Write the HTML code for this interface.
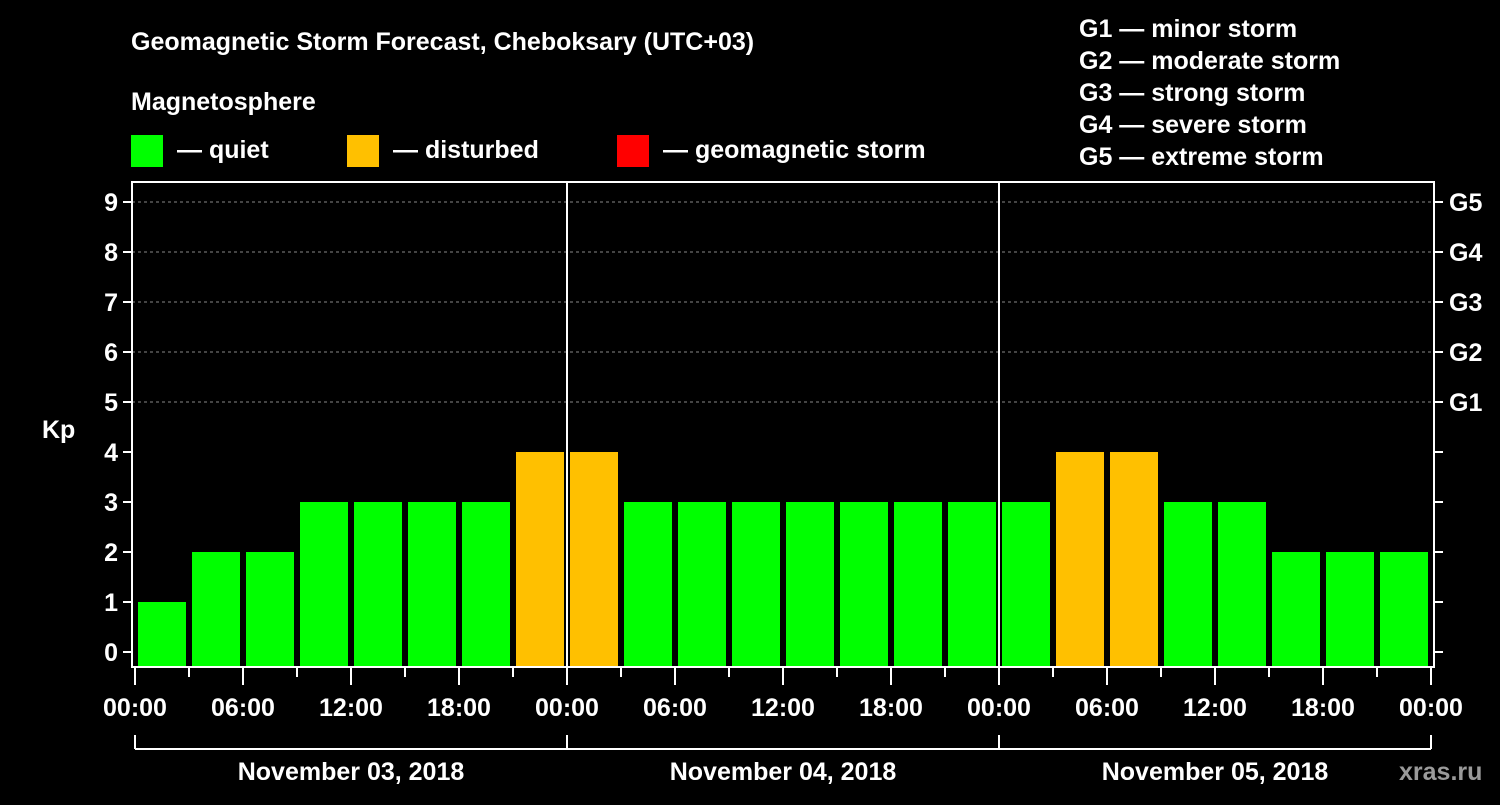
<!DOCTYPE html>
<html><head><meta charset="utf-8"><style>
body{margin:0;background:#000;width:1500px;height:800px;overflow:hidden}
svg text{font-family:"Liberation Sans",Arial,sans-serif;font-weight:bold;fill:#fff}
</style></head><body>
<svg id="c" width="1500" height="800" xmlns="http://www.w3.org/2000/svg">
<text x="131" y="50" font-size="25">Geomagnetic Storm Forecast, Cheboksary (UTC+03)</text>
<text x="131" y="110" font-size="25">Magnetosphere</text>
<g><rect x="131" y="135" width="32" height="32" fill="#00ff00"/><text x="177" y="158" font-size="25">— quiet</text></g>
<g><rect x="347" y="135" width="32" height="32" fill="#ffc000"/><text x="393" y="158" font-size="25">— disturbed</text></g>
<g><rect x="617" y="135" width="32" height="32" fill="#ff0000"/><text x="663" y="158" font-size="25">— geomagnetic storm</text></g>
<g font-size="25">
<text x="1079" y="37">G1 — minor storm</text><text x="1079" y="69">G2 — moderate storm</text><text x="1079" y="101">G3 — strong storm</text><text x="1079" y="133">G4 — severe storm</text><text x="1079" y="165">G5 — extreme storm</text></g>
<text x="42" y="438" font-size="25">Kp</text>
<text x="1399" y="780" font-size="25" fill="#999" style="fill:#9a9a9a">xras.ru</text>
<g id="plot"></g>
</svg>
<script>
const kpValues=[1,2,2,3,3,3,3,4,4,3,3,3,3,3,3,3,3,4,4,3,3,2,2,2];
const dayLabels=["November 03, 2018","November 04, 2018","November 05, 2018"];
const hourLabels=["00:00","06:00","12:00","18:00"];
const yTicks=[0,1,2,3,4,5,6,7,8,9];
const gLabels=["G1","G2","G3","G4","G5"];
const NS="http://www.w3.org/2000/svg";
const g=document.getElementById('plot');
const X0=135,SLOT=54,Y0=652,UNIT=50,L=132,R=1434,T=182,B=667;
const xs=i=>X0+i*SLOT; const ys=v=>Y0-v*UNIT;
function mk(t,a,p){const e=document.createElementNS(NS,t);for(const k in a)e.setAttribute(k,a[k]);(p||g).appendChild(e);return e;}
// grid
for(let v=5;v<=9;v++){const l=mk('line',{x1:L,x2:R,y1:ys(v),y2:ys(v),stroke:'#888','stroke-dasharray':'3,3','stroke-width':1});

}
// bars
kpValues.forEach((v,i)=>{const col=v>=5?'#ff0000':v>=4?'#ffc000':'#00ff00';
const r=mk('rect',{x:xs(i)+3,y:ys(v),width:SLOT-6,height:B-ys(v),fill:col});

});
// day separators
for(let d=1;d<dayLabels.length;d++){const l=mk('line',{x1:xs(d*8),x2:xs(d*8),y1:T,y2:B,stroke:'#fff','stroke-width':2});

}
// frame
const f=mk('rect',{x:L,y:T,width:R-L,height:B-T,fill:'none',stroke:'#fff','stroke-width':2});


// y ticks
yTicks.forEach(v=>{mk('line',{x1:L-9,x2:L,y1:ys(v),y2:ys(v),stroke:'#fff','stroke-width':2});
mk('line',{x1:R,x2:R+9,y1:ys(v),y2:ys(v),stroke:'#fff','stroke-width':2});
const t=mk('text',{x:L-14,y:ys(v)+9,'font-size':25,'text-anchor':'end'});t.textContent=v;

});
gLabels.forEach((s,i)=>{const t=mk('text',{x:1449,y:ys(5+i)+9,'font-size':25});t.textContent=s;

});
// x ticks
for(let i=0;i<=kpValues.length;i++){const major=i%2===0;
mk('line',{x1:xs(i),x2:xs(i),y1:B,y2:major?685:677,stroke:'#fff','stroke-width':2});
if(major){const t=mk('text',{x:xs(i),y:716,'font-size':25,'text-anchor':'middle'});t.textContent=hourLabels[(i/2)%4];

}}
// day brackets
mk('line',{x1:xs(0),x2:xs(kpValues.length),y1:749,y2:749,stroke:'#fff','stroke-width':2});
for(let d=0;d<=dayLabels.length;d++)mk('line',{x1:xs(d*8),x2:xs(d*8),y1:735,y2:749,stroke:'#fff','stroke-width':2});
dayLabels.forEach((s,d)=>{const t=mk('text',{x:xs(d*8+4),y:780,'font-size':25,'text-anchor':'middle'});t.textContent=s;

});
</script>
</body></html>
